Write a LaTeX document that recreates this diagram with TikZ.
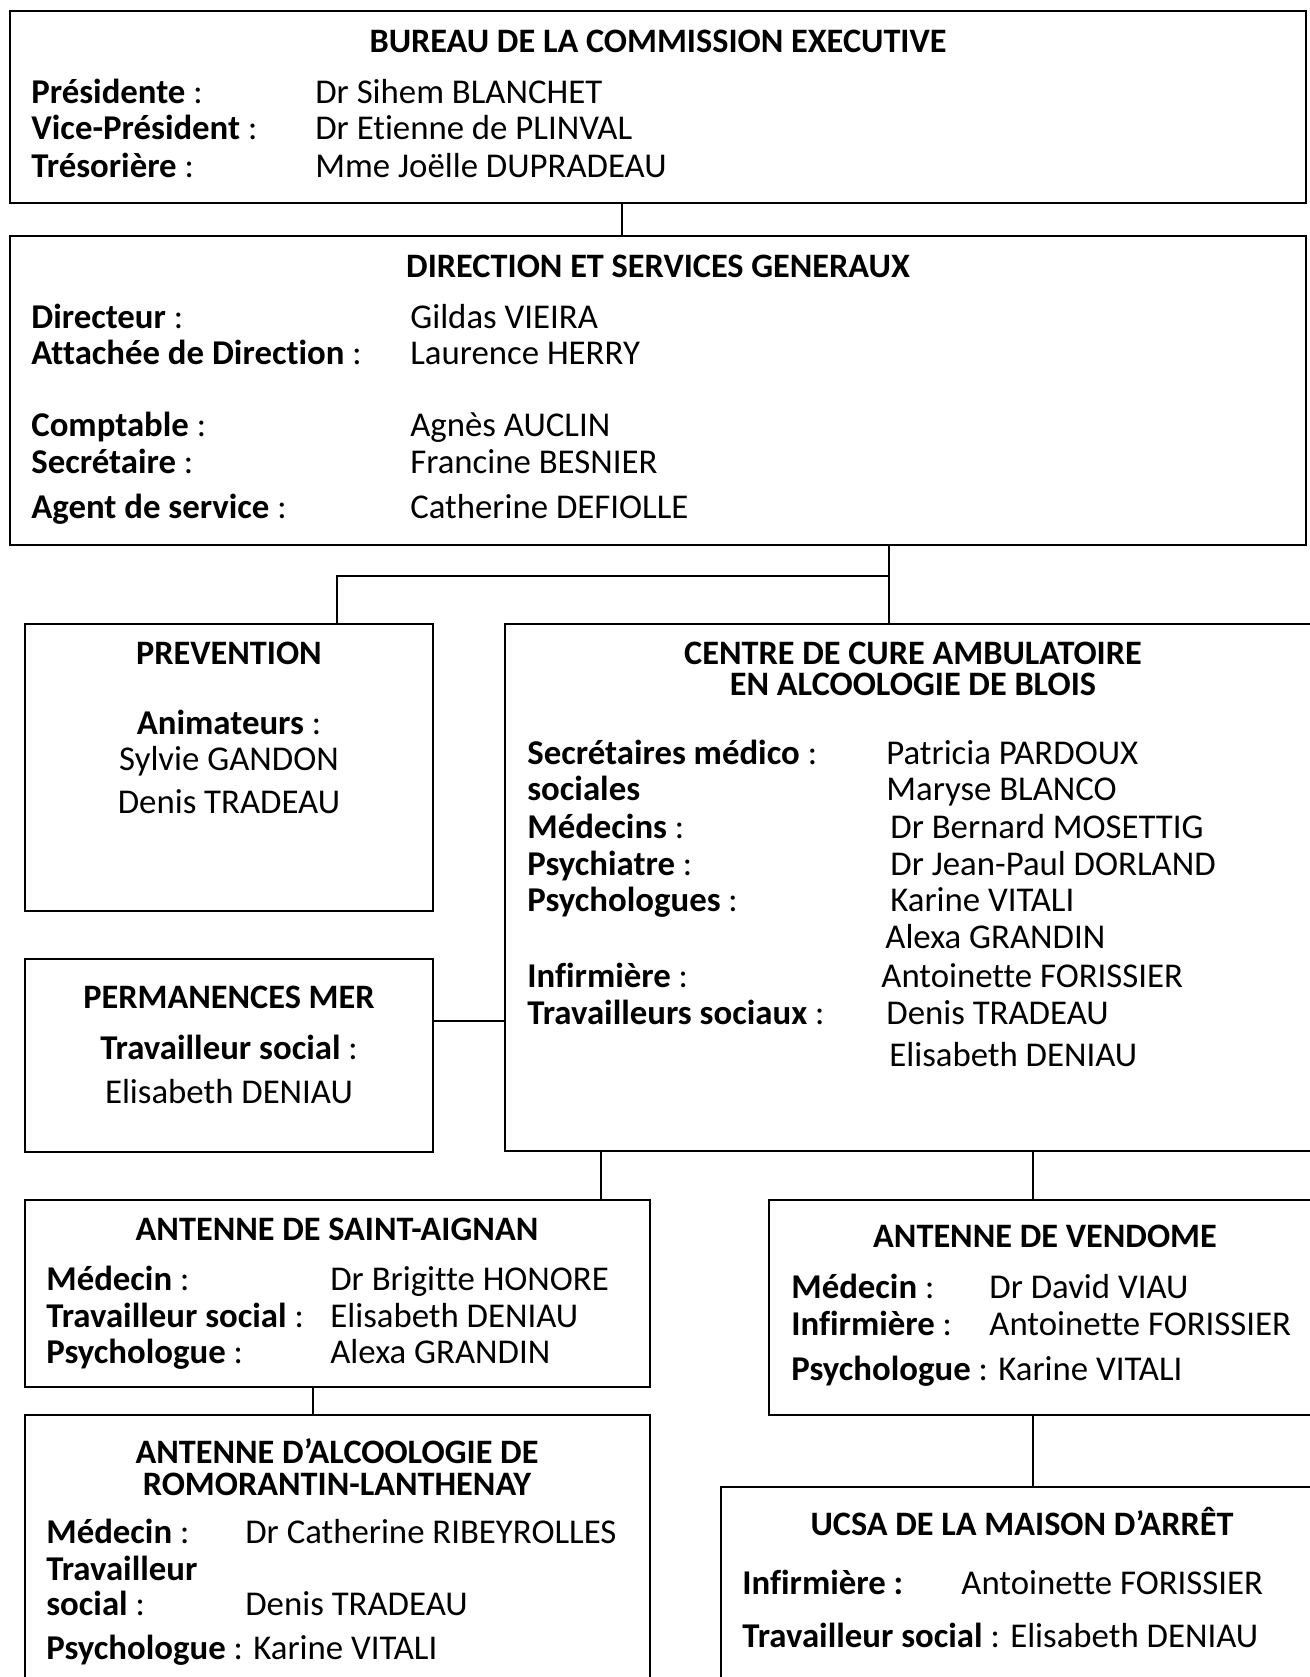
\documentclass[tikz,border=0pt]{standalone}
\usepackage{fontspec}
\setmainfont{Carlito}[Ligatures=NoCommon]
\newcommand{\bodyfont}{\fontsize{19.8}{23}\selectfont}
\newcommand{\headfont}{\fontsize{19.5}{23}\selectfont\bfseries}

\begin{document}
\begin{tikzpicture}[x=0.02cm, y=-0.02cm,
    every node/.style={font=\bodyfont},
    box/.style={draw, line width=1pt, inner sep=0pt, outer sep=0pt, anchor=north west},
    ttl/.style={anchor=base, inner sep=0pt, font=\headfont},
    lbl/.style={anchor=base west, inner sep=0pt},
    mid/.style={anchor=base, inner sep=0pt},
    link/.style={line width=0.7pt}]
  \useasboundingbox (0,0) rectangle (1310,1677);

  % boxes
  \node[box, minimum width=25.92cm, minimum height=3.84cm] (bureau) at (10,11) {};
  \node[box, minimum width=25.92cm, minimum height=6.18cm] (direction) at (10,236) {};
  \node[box, minimum width=8.16cm, minimum height=5.74cm] (prevention) at (25,624) {};
  \node[box, minimum width=8.16cm, minimum height=3.86cm] (permanences) at (25,959) {};
  \node[box, minimum width=16.20cm, minimum height=10.54cm] (centre) at (505,624) {};
  \node[box, minimum width=12.50cm, minimum height=3.74cm] (aignan) at (25,1200) {};
  \node[box, minimum width=12.50cm, minimum height=5.60cm] (romo) at (25,1415) {};
  \node[box, minimum width=10.96cm, minimum height=4.30cm] (vendome) at (769,1200) {};
  \node[box, minimum width=11.92cm, minimum height=4.20cm] (ucsa) at (721,1487) {};

  % connectors
  \coordinate (bx) at (622,0);
  \coordinate (hub) at (889,576);
  \coordinate (px) at (337,0);
  \coordinate (py) at (0,1021);
  \coordinate (ax) at (601,0);
  \coordinate (vx) at (1033,0);
  \coordinate (rx) at (313,0);
  \draw[link] (bureau.south -| bx) -- (direction.north -| bx);
  \draw[link] (direction.south -| hub) -- (centre.north -| hub);
  \draw[link] (hub) -- (hub -| px) -- (prevention.north -| px);
  \draw[link] (permanences.east |- py) -- (centre.west |- py);
  \draw[link] (centre.south -| ax) -- (aignan.north -| ax);
  \draw[link] (centre.south -| vx) -- (vendome.north -| vx);
  \draw[link] (vendome.south -| vx) -- (ucsa.north -| vx);
  \draw[link] (aignan.south -| rx) -- (romo.north -| rx);

  % bureau
  \node[ttl] (bureau-t) at (658,52) {BUREAU DE LA COMMISSION EXECUTIVE};
  \node[lbl] (bureau-l1) at (31,103) {\textbf{Présidente} :};
  \node[lbl] (bureau-l2) at (31,139) {\textbf{Vice-Président} :};
  \node[lbl] (bureau-l3) at (31,177) {\textbf{Trésorière} :};
  \node[lbl] (bureau-n1) at (315,103) {Dr Sihem BLANCHET};
  \node[lbl] (bureau-n2) at (315,139) {Dr Etienne de PLINVAL};
  \node[lbl] (bureau-n3) at (315,177) {Mme Joëlle DUPRADEAU};

  % direction
  \node[ttl] (direction-t) at (658,277) {DIRECTION ET SERVICES GENERAUX};
  \node[lbl] (direction-l1) at (31,328) {\textbf{Directeur} :};
  \node[lbl] (direction-l2) at (31,364) {\textbf{Attachée de Direction} :};
  \node[lbl] (direction-l3) at (31,436) {\textbf{Comptable} :};
  \node[lbl] (direction-l4) at (31,473) {\textbf{Secrétaire} :};
  \node[lbl] (direction-l5) at (31,518) {\textbf{Agent de service} :};
  \node[lbl] (direction-n1) at (410,328) {Gildas VIEIRA};
  \node[lbl] (direction-n2) at (410,364) {Laurence HERRY};
  \node[lbl] (direction-n3) at (410,436) {Agnès AUCLIN};
  \node[lbl] (direction-n4) at (410,473) {Francine BESNIER};
  \node[lbl] (direction-n5) at (410,518) {Catherine DEFIOLLE};

  % prevention
  \node[ttl] (prevention-t) at (229,664) {PREVENTION};
  \node[mid] (prevention-l1) at (229,734) {\textbf{Animateurs} :};
  \node[mid] (prevention-n1) at (229,770) {Sylvie GANDON};
  \node[mid] (prevention-n2) at (229,813) {Denis TRADEAU};

  % permanences
  \node[ttl] (permanences-t) at (229,1008) {PERMANENCES MER};
  \node[mid] (permanences-l1) at (229,1059) {\textbf{Travailleur social} :};
  \node[mid] (permanences-n1) at (229,1103) {Elisabeth DENIAU};

  % centre
  \node[ttl] (centre-t1) at (913,664) {CENTRE DE CURE AMBULATOIRE};
  \node[ttl] (centre-t2) at (913,695) {EN ALCOOLOGIE DE BLOIS};
  \node[lbl] (centre-l1) at (527,764) {\textbf{Secrétaires médico} :};
  \node[lbl] (centre-l2) at (527,800) {\textbf{sociales}};
  \node[lbl] (centre-l3) at (527,838) {\textbf{Médecins} :};
  \node[lbl] (centre-l4) at (527,875) {\textbf{Psychiatre} :};
  \node[lbl] (centre-l5) at (527,911) {\textbf{Psychologues} :};
  \node[lbl] (centre-l6) at (527,987) {\textbf{Infirmière} :};
  \node[lbl] (centre-l7) at (527,1024) {\textbf{Travailleurs sociaux} :};
  \node[lbl] (centre-n1) at (886,764) {Patricia PARDOUX};
  \node[lbl] (centre-n2) at (886,800) {Maryse BLANCO};
  \node[lbl] (centre-n3) at (890,838) {Dr Bernard MOSETTIG};
  \node[lbl] (centre-n4) at (890,875) {Dr Jean-Paul DORLAND};
  \node[lbl] (centre-n5) at (890,911) {Karine VITALI};
  \node[lbl] (centre-n6) at (885,948) {Alexa GRANDIN};
  \node[lbl] (centre-n7) at (881,987) {Antoinette FORISSIER};
  \node[lbl] (centre-n8) at (886,1024) {Denis TRADEAU};
  \node[lbl] (centre-n9) at (889,1066) {Elisabeth DENIAU};

  % saint-aignan
  \node[ttl] (aignan-t) at (337,1240) {ANTENNE DE SAINT-AIGNAN};
  \node[lbl] (aignan-l1) at (46,1290) {\textbf{Médecin} :};
  \node[lbl] (aignan-l2) at (46,1327) {\textbf{Travailleur social} :};
  \node[lbl] (aignan-l3) at (46,1363) {\textbf{Psychologue} :};
  \node[lbl] (aignan-n1) at (330,1290) {Dr Brigitte HONORE};
  \node[lbl] (aignan-n2) at (330,1327) {Elisabeth DENIAU};
  \node[lbl] (aignan-n3) at (330,1363) {Alexa GRANDIN};

  % romorantin
  \node[ttl] (romo-t1) at (337,1463) {ANTENNE D’ALCOOLOGIE DE};
  \node[ttl] (romo-t2) at (337,1495) {ROMORANTIN-LANTHENAY};
  \node[lbl] (romo-l1) at (46,1543) {\textbf{Médecin} :};
  \node[lbl] (romo-l2) at (46,1580) {\textbf{Travailleur}};
  \node[lbl] (romo-l3) at (46,1615) {\textbf{social} :};
  \node[lbl] (romo-l4) at (46,1659) {\textbf{Psychologue} : Karine VITALI};
  \node[lbl] (romo-n1) at (245,1543) {Dr Catherine RIBEYROLLES};
  \node[lbl] (romo-n2) at (245,1615) {Denis TRADEAU};

  % vendome
  \node[ttl] (vendome-t) at (1045,1247) {ANTENNE DE VENDOME};
  \node[lbl] (vendome-l1) at (791,1298) {\textbf{Médecin} :};
  \node[lbl] (vendome-l2) at (791,1335) {\textbf{Infirmière} :};
  \node[lbl] (vendome-l3) at (791,1380) {\textbf{Psychologue} : Karine VITALI};
  \node[lbl] (vendome-n1) at (989,1298) {Dr David VIAU};
  \node[lbl] (vendome-n2) at (989,1335) {Antoinette FORISSIER};

  % ucsa
  \node[ttl] (ucsa-t) at (1022,1535) {UCSA DE LA MAISON D’ARRÊT};
  \node[lbl] (ucsa-l1) at (742,1594) {\textbf{Infirmière :}};
  \node[lbl] (ucsa-n1) at (961,1594) {Antoinette FORISSIER};
  \node[lbl] (ucsa-l2) at (742,1647) {\textbf{Travailleur social} : Elisabeth DENIAU};
\end{tikzpicture}
\end{document}
